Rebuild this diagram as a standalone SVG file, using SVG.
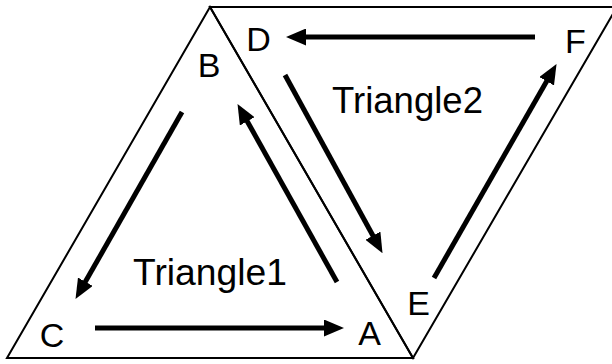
<svg xmlns="http://www.w3.org/2000/svg" width="612" height="364" viewBox="0 0 612 364">
<style>
.edge{fill:none;stroke:#000;stroke-width:2;stroke-linejoin:miter}
.arrow{fill:none;stroke:#000;stroke-width:5;marker-end:url(#head)}
.lbl{font-family:"Liberation Sans",Arial,sans-serif;font-size:34px;fill:#000;text-anchor:middle}
.title{font-family:"Liberation Sans",Arial,sans-serif;font-size:37px;fill:#000}
</style>
<defs>
<marker id="head" markerUnits="userSpaceOnUse" viewBox="0 0 20 17" markerWidth="20" markerHeight="17" refX="1" refY="8.5" orient="auto">
<path d="M0,0 L20,8.5 L0,17 z" fill="#000"/>
</marker>
</defs>
<rect width="612" height="364" fill="#fff"/>
<g id="triangle1">
<path class="edge" d="M210,7 L7,358 L413,358 Z"/>
<text class="title" x="133" y="285" textLength="154" lengthAdjust="spacingAndGlyphs">Triangle1</text>
</g>
<g id="triangle2">
<path class="edge" d="M210,7 L617,7 L413,358 Z"/>
<text class="title" x="332" y="113" textLength="151" lengthAdjust="spacingAndGlyphs">Triangle2</text>
</g>
<g id="node-A"><text class="lbl" x="369.5" y="345">A</text></g>
<g id="node-B"><text class="lbl" x="209" y="77">B</text></g>
<g id="node-C"><text class="lbl" x="52" y="347">C</text></g>
<g id="node-D"><text class="lbl" x="258.5" y="51">D</text></g>
<g id="node-E"><text class="lbl" x="418.5" y="315">E</text></g>
<g id="node-F"><text class="lbl" x="575.5" y="53">F</text></g>
<g id="connectors">
<line class="arrow" x1="95" y1="328" x2="325" y2="328"/>
<line class="arrow" x1="337" y1="282" x2="246.8" y2="120.5"/>
<line class="arrow" x1="182" y1="112" x2="84.9" y2="282.6"/>
<line class="arrow" x1="285" y1="75" x2="373.4" y2="236.5"/>
<line class="arrow" x1="434" y1="278" x2="547.1" y2="80.4"/>
<line class="arrow" x1="535" y1="37" x2="305" y2="37"/>
</g>
</svg>
